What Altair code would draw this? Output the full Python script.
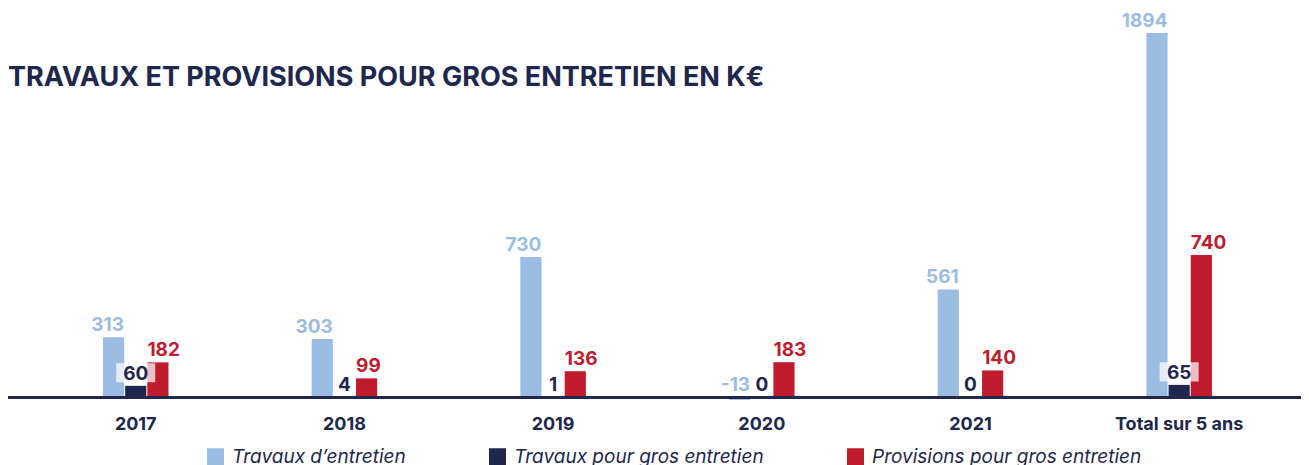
import altair as alt
import pandas as pd

categories = ["2017", "2018", "2019", "2020", "2021", "Total sur 5 ans"]
series_names = ["Travaux d\u2019entretien", "Travaux pour gros entretien", "Provisions pour gros entretien"]
travaux_entretien = [313, 303, 730, -13, 561, 1894]
travaux_gros = [60, 4, 1, 0, 0, 65]
provisions_gros = [182, 99, 136, 183, 140, 740]
colors = ["#9BBDE4", "#20274D", "#C11B2E"]
title_text = "TRAVAUX ET PROVISIONS POUR GROS ENTRETIEN EN K\u20ac"

rows = []
for s, vals in zip(series_names, [travaux_entretien, travaux_gros, provisions_gros]):
    for c, v in zip(categories, vals):
        rows.append({"cat": c, "series": s, "value": v})
df = pd.DataFrame(rows)

W, H = 1293, 399
NAVY = "#20274D"
FONT = "Inter"

x_enc = alt.X("cat:N", sort=categories,
              scale=alt.Scale(paddingInner=0.686, paddingOuter=0.441, align=0.516),
              axis=alt.Axis(title=None, domain=False, ticks=False, labelAngle=0,
                            labelPadding=8, labelFont=FONT, labelFontSize=18,
                            labelFontWeight="bold", labelColor=NAVY))
xoff = alt.XOffset("series:N", sort=series_names,
                   scale=alt.Scale(domain=series_names, paddingInner=0.045, paddingOuter=0))
y_scale = alt.Scale(domain=[-50, 2024], nice=False, zero=False)

base = alt.Chart(df)

bars = base.mark_bar().encode(
    x=x_enc,
    xOffset=xoff,
    y=alt.Y("value:Q", scale=y_scale, axis=None),
    y2=alt.Y2(datum=0),
    color=alt.Color("series:N", scale=alt.Scale(domain=series_names, range=colors),
                    legend=alt.Legend(title=None, orient="none", direction="horizontal",
                                      legendX=198, legendY=439, symbolType="square",
                                      symbolSize=289, symbolStrokeWidth=0,
                                      labelFont=FONT, labelFontSize=19, labelLimit=0,
                                      labelFontStyle="italic", labelColor=NAVY,
                                      labelOffset=7, columnPadding=82, padding=0)),
)

baseline = base.mark_rule(color=NAVY, strokeWidth=2.5).encode(
    y=alt.datum(0, scale=y_scale), x=alt.value(-8), x2=alt.value(W + 8)
)

lab = base.transform_calculate(ylab="max(datum.value, 0)")

boxes = lab.transform_filter(
    (alt.datum.series == series_names[1]) & (alt.datum.value >= 10)
).mark_point(shape="M-1,-1.154H1V-0.179H-1Z", size=1521, filled=True,
             color="white", opacity=0.72, strokeWidth=0).encode(
    x=alt.X("cat:N", sort=categories), xOffset=xoff,
    y=alt.Y("ylab:Q", scale=y_scale),
)

def text_layer(idx, align, dx):
    return lab.transform_filter(alt.datum.series == series_names[idx]).mark_text(
        align=align, baseline="alphabetic", dx=dx, dy=-6, font=FONT,
        fontSize=19, fontWeight="bold", color=colors[idx]
    ).encode(
        x=alt.X("cat:N", sort=categories), xOffset=xoff,
        y=alt.Y("ylab:Q", scale=y_scale),
        text=alt.Text("value:N"),
    )

t0 = text_layer(0, "right", 10.5)
t1 = text_layer(1, "center", 0)
t2 = text_layer(2, "left", -10.5)

title = alt.Chart(pd.DataFrame({"t": [title_text]})).mark_text(
    align="left", baseline="alphabetic", font=FONT, fontSize=27,
    fontWeight=700, color=NAVY
).encode(x=alt.value(0), y=alt.value(78), text="t:N")

chart = alt.layer(bars, baseline, boxes, t0, t1, t2, title).resolve_scale(
    y="shared"
).properties(
    width=W, height=H,
    autosize=alt.AutoSizeParams(type="none"),
    padding={"left": 0, "top": 0, "right": 0, "bottom": 70},
).configure_view(stroke=None).configure_axis(grid=False)

chart.save("out.html", embed_options={"renderer": "svg", "actions": False})
